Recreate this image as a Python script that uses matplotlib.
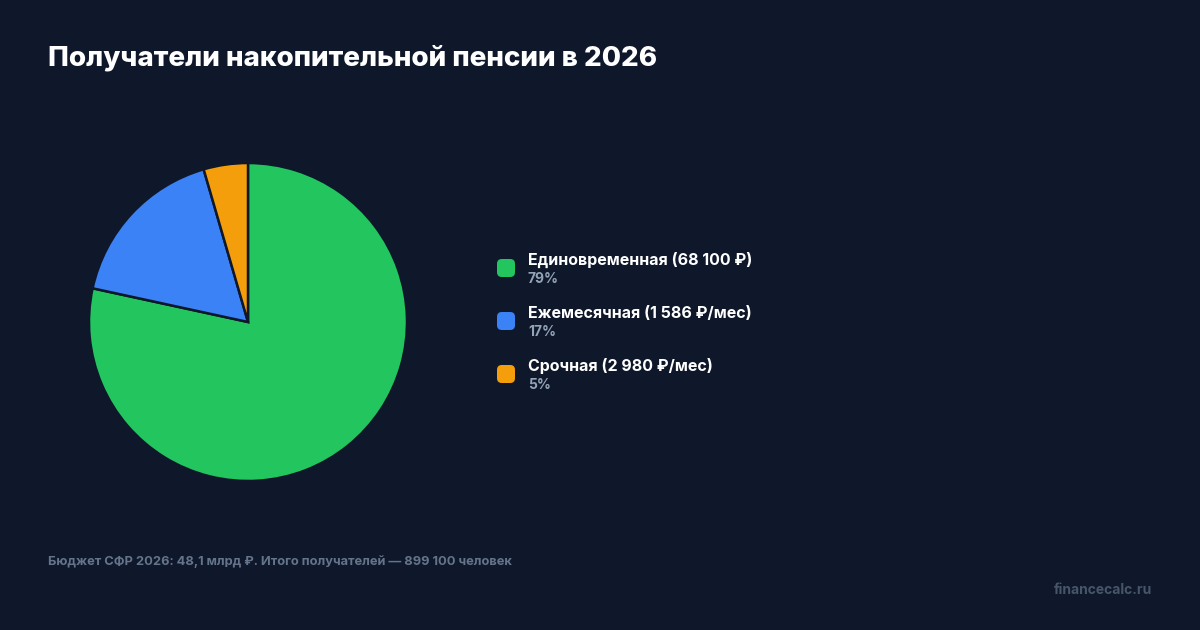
import matplotlib.pyplot as plt
from matplotlib.patches import FancyBboxPatch

plt.rcParams['font.family'] = ['Inter', 'DejaVu Sans']

# data
categories = ["Единовременная (68 100 ₽)", "Ежемесячная (1 586 ₽/мес)", "Срочная (2 980 ₽/мес)"]
shares = [78.4, 17.1, 4.5]
pct_labels = ["79%", "17%", "5%"]
colors = ["#22c55e", "#3b82f6", "#f59e0b"]

title = "Получатели накопительной пенсии в 2026"
footnote = "Бюджет СФР 2026: 48,1 млрд ₽. Итого получателей — 899 100 человек"
source = "financecalc.ru"

bg = "#0f172a"
W, H = 1200, 630

fig = plt.figure(figsize=(12, 6.3), dpi=100, facecolor=bg)

# pie
ax = fig.add_axes([89 / W, (H - 481) / H, 318 / W, 318 / H])
ax.set_facecolor(bg)
ax.pie(shares, colors=colors, startangle=90, counterclock=False,
       wedgeprops=dict(edgecolor=bg, linewidth=1.8))
ax.set_xlim(-1.0, 1.0)
ax.set_ylim(-1.0, 1.0)
ax.axis('off')

# title
fig.text(48 / W, 1 - 58 / H, title, color="white", fontsize=20, fontweight="heavy",
         va="center", ha="left")

# legend
y0, dy = 268, 53
for i, (cat, pct, col) in enumerate(zip(categories, pct_labels, colors)):
    y = y0 + i * dy
    box = FancyBboxPatch(((497) / W, 1 - (y + 9) / H), 18 / W, 18 / H,
                         boxstyle="round,pad=0,rounding_size=0.004",
                         transform=fig.transFigure, facecolor=col, edgecolor="none",
                         mutation_aspect=W / H)
    fig.patches.append(box)
    fig.text(528 / W, 1 - (y - 8) / H, cat, color="white", fontsize=11.5,
             fontweight="bold", va="center", ha="left")
    fig.text(528 / W, 1 - (y + 11) / H, pct, color="#94a3b8", fontsize=10,
             fontweight="bold", va="center", ha="left")

# footer
fig.text(48 / W, 1 - 562 / H, footnote, color="#64748b", fontsize=9.25,
         fontweight="bold", va="center", ha="left")
fig.text(1152 / W, 1 - 590 / H, source, color="#475569", fontsize=10,
         fontweight="bold", va="center", ha="right")

fig.savefig("out.png", dpi=100, facecolor=bg)
